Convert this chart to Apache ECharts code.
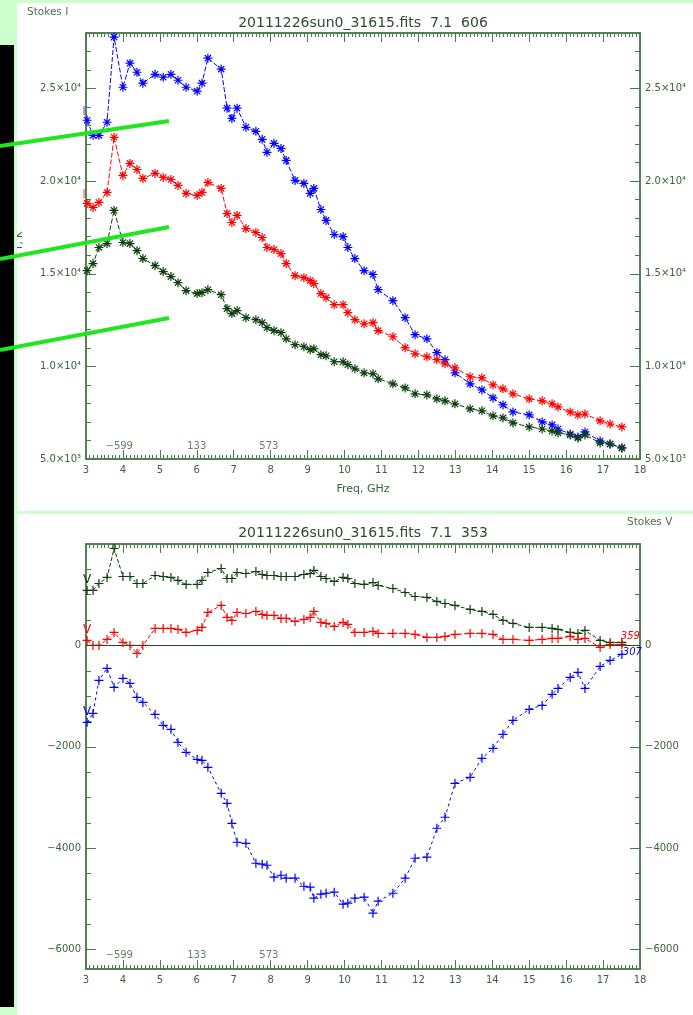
<!DOCTYPE html>
<html><head><meta charset="utf-8">
<script src="https://cdn.jsdelivr.net/npm/echarts@6/dist/echarts.min.js"></script>
<style>
html,body{margin:0;padding:0;background:#ccffcc;width:693px;height:1015px;overflow:hidden;}
.panel{position:absolute;background:#ffffff;}
#chart{position:absolute;left:0;top:0;width:693px;height:1015px;}
</style></head><body>
<div class="panel" style="left:17px;top:3px;width:676px;height:508px"></div>
<div class="panel" style="left:17px;top:514px;width:676px;height:501px"></div>
<div id="chart"></div>
<script>
// ---------- data ----------
const freq = [3.03,3.19,3.35,3.57,3.76,4.00,4.19,4.38,4.54,4.87,5.09,5.30,5.49,5.71,6.01,6.14,6.30,6.66,6.82,6.95,7.09,7.33,7.60,7.77,7.90,8.09,8.28,8.42,8.66,8.90,9.07,9.17,9.36,9.50,9.72,9.96,10.09,10.28,10.53,10.77,10.91,11.31,11.64,11.91,12.23,12.50,12.72,12.99,13.40,13.72,14.02,14.29,14.56,15.00,15.35,15.62,15.78,16.11,16.32,16.51,16.92,17.19,17.51];
const blueI = [23290,22475,22475,23180,27780,25070,26370,25880,25290,25770,25610,25770,25450,25070,24860,25290,26640,26050,23940,23390,23940,22910,22690,22260,21560,22040,21770,21120,20040,19880,19340,19610,18470,17880,17120,17010,16420,15820,15170,14960,14140,13550,12630,11710,11490,10740,10360,9650,9060,8730,8300,7920,7540,7380,7000,6840,6620,6350,6190,6460,5970,5810,5600];
const redI = [18800,18580,18850,19390,22370,20310,20960,20630,20150,20420,20200,20090,19770,19340,19230,19390,19930,19610,18250,17770,18150,17440,17230,16960,16420,16310,16090,15550,14900,14790,14630,14470,13930,13710,13330,13330,12900,12520,12300,12360,11930,11600,11010,10680,10520,10360,10140,9920,9440,9380,9000,8790,8520,8250,8140,7980,7810,7540,7380,7430,7060,6890,6730];
const greenI = [15170,15550,16420,16630,18420,16690,16630,16250,15820,15440,15120,14850,14520,14090,13930,13980,14140,13870,13120,12850,13010,12630,12520,12360,12090,11930,11820,11490,11170,11060,10900,10950,10630,10570,10250,10250,10090,9870,9650,9600,9330,9060,8840,8520,8460,8250,8140,7980,7710,7600,7330,7220,6950,6730,6620,6510,6410,6300,6140,6300,5870,5810,5600];
const blueV = [-1517,-1340,-690,-453,-827,-650,-749,-1024,-1123,-1359,-1576,-1655,-1911,-2108,-2246,-2266,-2403,-2916,-3113,-3507,-3881,-3901,-4295,-4314,-4334,-4570,-4531,-4590,-4590,-4748,-4767,-4984,-4905,-4886,-4866,-5102,-5083,-4984,-4964,-5280,-5043,-4886,-4590,-4196,-4176,-3605,-3388,-2719,-2600,-2226,-2029,-1753,-1478,-1261,-1182,-965,-847,-630,-532,-847,-414,-296,-177];
const redV = [99,0,0,118,256,59,0,-158,0,335,335,335,315,256,296,355,650,788,552,493,650,630,670,611,591,591,532,532,473,512,552,670,453,433,374,453,414,256,256,276,236,236,236,217,158,158,177,217,236,236,217,118,118,99,118,138,138,177,118,138,-39,20,20];
const greenV = [1084,1084,1221,1340,1911,1359,1359,1221,1221,1379,1359,1340,1281,1202,1202,1281,1438,1517,1320,1320,1438,1418,1458,1399,1379,1379,1359,1359,1359,1399,1418,1478,1359,1320,1261,1340,1320,1221,1202,1241,1182,1123,1044,965,946,867,827,788,709,670,611,493,433,355,355,335,315,256,236,296,99,59,59];
const xTicks = [3,4,5,6,7,8,9,10,11,12,13,14,15,16,17,18];
const yTicksI = [5000,10000,15000,20000,25000];
const yTicksV = [-6000,-4000,-2000,0];
const annotText = ['\u2212599','133','573'];
const annotFreq = [3.9,6.0,7.95];
const annotYI = [5700,5700,5700];
const annotYV = [-6110,-6110,-6110];
const titleI = '20111226sun0_31615.fits  7.1  606';
const titleV = '20111226sun0_31615.fits  7.1  353';

// ---------- styles ----------
const AX = '#4b7b4b', TX = '#3b633b', FONT = 'DejaVu Sans';
const BLUE = '#0000ff', RED = '#ff0000', GREEN = '#0d400d';
const AST = 'path://M5,0L5,10M0,5L10,5M1.5,1.5L8.5,8.5M1.5,8.5L8.5,1.5';
const PLUS = 'path://M5,0L5,10M0,5L10,5';

function minorList(min, max, step, majors) {
  const out = [];
  const n = Math.round((max - min) / step);
  for (let k = 1; k < n; k++) {
    const v = Math.round((min + k * step) * 1000) / 1000;
    if (!majors.some(m => Math.abs(m - v) < 1e-6)) out.push(v);
  }
  return out;
}
const xMinor = minorList(3, 18, 0.1, xTicks);
const yMinorI = minorList(5000, 28000, 1000, yTicksI);
const yMinorV = minorList(-6000, 2000, 500, yTicksV);

function fmtI(v) {
  const e = Math.floor(Math.log10(v) + 1e-9);
  const m = v / Math.pow(10, e);
  return m.toFixed(1) + '\u00d710' + (e === 3 ? '\u00b3' : '\u2074');
}
function fmtV(v) { return v === 0 ? '0' : '\u2212' + Math.abs(v); }

function xAx(grid, pos, ticks, len, labels, name) {
  return {
    type: 'value', gridIndex: grid, position: pos, min: 3, max: 18,
    axisLine: { show: true, onZero: false, lineStyle: { color: AX, width: 1.5 } },
    axisTick: { show: true, inside: true, length: len, customValues: ticks, lineStyle: { color: AX, width: 1 } },
    axisLabel: { show: !!labels, customValues: ticks, color: TX, fontFamily: FONT, fontSize: 10, margin: 6 },
    splitLine: { show: false }, minorTick: { show: false },
    name: name || '', nameLocation: 'middle', nameGap: 25,
    nameTextStyle: { color: TX, fontFamily: FONT, fontSize: 11 }
  };
}
function yAx(grid, pos, min, max, ticks, len, labels, fmt) {
  return {
    type: 'value', gridIndex: grid, position: pos, min: min, max: max,
    axisLine: { show: true, onZero: false, lineStyle: { color: AX, width: 1.5 } },
    axisTick: { show: true, inside: true, length: len, customValues: ticks, lineStyle: { color: AX, width: 1 } },
    axisLabel: { show: !!labels, customValues: ticks, formatter: fmt, color: TX, fontFamily: FONT, fontSize: 10, margin: 5 },
    splitLine: { show: false }, minorTick: { show: false }
  };
}

const xAxis = [
  xAx(0, 'bottom', xTicks, 9, true, 'Freq, GHz'),
  xAx(0, 'bottom', xMinor, 4, false),
  xAx(0, 'top', xTicks, 9, false),
  xAx(0, 'top', xMinor, 4, false),
  xAx(1, 'bottom', xTicks, 9, true),
  xAx(1, 'bottom', xMinor, 4, false),
  xAx(1, 'top', xTicks, 9, false),
  xAx(1, 'top', xMinor, 4, false)
];
const yAxis = [
  yAx(0, 'left', 5000, 28000, yTicksI, 10, true, fmtI),
  yAx(0, 'left', 5000, 28000, yMinorI, 5, false),
  yAx(0, 'right', 5000, 28000, yTicksI, 10, true, fmtI),
  yAx(0, 'right', 5000, 28000, yMinorI, 5, false),
  yAx(1, 'left', -6380, 2000, yTicksV, 10, true, fmtV),
  yAx(1, 'left', -6380, 2000, yMinorV, 5, false),
  yAx(1, 'right', -6380, 2000, yTicksV, 10, true, fmtV),
  yAx(1, 'right', -6380, 2000, yMinorV, 5, false)
];

function lineSeries(xi, yi, ys, color, sym, size, dash, firstLabel, lastLabel) {
  const n = ys.length;
  const data = freq.map((f, i) => {
    const item = { value: [f, ys[i]] };
    if (i === 0 && firstLabel) item.label = firstLabel;
    if (i === n - 1 && lastLabel) item.label = lastLabel;
    return item;
  });
  return {
    type: 'line', xAxisIndex: xi, yAxisIndex: yi, data: data,
    symbol: sym, symbolSize: size, showSymbol: true, showAllSymbol: true, silent: true,
    lineStyle: { color: color, width: 1, type: dash },
    itemStyle: { color: 'rgba(0,0,0,0)', borderColor: color, borderWidth: 1.2 },
    label: { show: false }, z: 3
  };
}
function annotSeries(xi, yi, ys) {
  return {
    type: 'scatter', xAxisIndex: xi, yAxisIndex: yi, silent: true,
    symbol: 'circle', symbolSize: 1, itemStyle: { color: 'rgba(0,0,0,0)' },
    data: annotFreq.map((f, i) => [f, ys[i], annotText[i]]),
    label: { show: true, position: 'inside', formatter: p => p.data[2], color: TX, fontFamily: FONT, fontSize: 10 }
  };
}
const startMark = c => ({ show: true, formatter: '|', position: 'top', distance: 0, offset: [-3, 0], color: c, fontSize: 9, fontFamily: FONT });
const vMark = c => ({ show: true, formatter: 'V', position: 'top', distance: -1, color: c, fontSize: 12, fontFamily: FONT });
const endMark = (c, txt, pos) => ({ show: true, formatter: txt, position: pos, color: c, fontSize: 10, fontFamily: FONT, fontStyle: 'italic' });

const series = [
  lineSeries(0, 0, blueI, BLUE, AST, 9, [5, 2], startMark(BLUE)),
  lineSeries(0, 0, redI, RED, AST, 9, [5, 2], startMark(RED)),
  lineSeries(0, 0, greenI, GREEN, AST, 9, [5, 2]),
  Object.assign(lineSeries(4, 4, greenV, GREEN, PLUS, 9, [4, 2], vMark(GREEN)), {
    markLine: { silent: true, symbol: 'none', label: { show: false }, animation: false,
      lineStyle: { color: '#1f4f1f', width: 1, type: 'solid' }, data: [{ yAxis: 0 }] }
  }),
  lineSeries(4, 4, redV, RED, PLUS, 9, [4, 2], vMark(RED), endMark(RED, '359', [4, -8])),
  lineSeries(4, 4, blueV, BLUE, PLUS, 9, [3, 3], vMark(BLUE), endMark(BLUE, '307', [6, -2])),
  annotSeries(0, 0, annotYI),
  annotSeries(4, 4, annotYV)
];

const txt = (x, y, s, size, align, color) => ({
  type: 'text', z: 10, silent: true,
  style: { x: x, y: y, text: s, font: size + 'px "' + FONT + '"', fill: color || TX, align: align || 'left', verticalAlign: 'middle' }
});

const graphic = [
  txt(27, 12, 'Stokes I', 10.5, 'left', '#4f6f4f'),
  txt(363, 23, titleI, 14, 'center', '#2f4a2f'),
  txt(627, 522, 'Stokes V', 10.5, 'left', '#4f6f4f'),
  txt(363, 533, titleV, 14, 'center', '#2f4a2f'),
  { type: 'text', z: 40, silent: true, x: 19, y: 241, rotation: Math.PI / 2,
    style: { x: 0, y: 0, text: 'T, K', font: '10px "' + FONT + '"', fill: TX, align: 'center', verticalAlign: 'middle' } },
  { type: 'rect', z: 50, silent: true, shape: { x: 0, y: 0, width: 17, height: 1015 }, style: { fill: '#ccffcc' } },
  { type: 'rect', z: 51, silent: true, shape: { x: 0, y: 45, width: 14, height: 962 }, style: { fill: '#000000' } },
  { type: 'line', z: 60, silent: true, shape: { x1: 0, y1: 146, x2: 169, y2: 121 }, style: { stroke: '#1fe61f', lineWidth: 4 } },
  { type: 'line', z: 60, silent: true, shape: { x1: 0, y1: 259, x2: 169, y2: 227 }, style: { stroke: '#1fe61f', lineWidth: 4 } },
  { type: 'line', z: 60, silent: true, shape: { x1: 0, y1: 350, x2: 169, y2: 318 }, style: { stroke: '#1fe61f', lineWidth: 4 } }
];

const chart = echarts.init(document.getElementById('chart'), null, { renderer: 'canvas' });
chart.setOption({
  backgroundColor: 'transparent',
  animation: false,
  textStyle: { fontFamily: FONT },
  grid: [
    { left: 86, top: 33, width: 554, height: 426 },
    { left: 86, top: 544, width: 554, height: 425 }
  ],
  xAxis: xAxis,
  yAxis: yAxis,
  series: series,
  graphic: graphic
});
</script></body></html>
